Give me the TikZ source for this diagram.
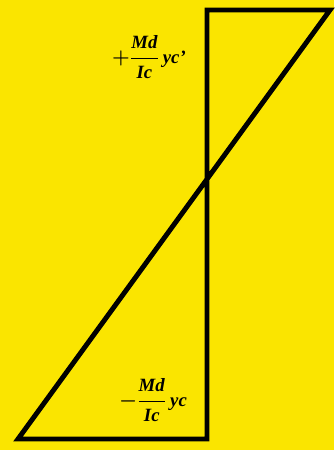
\documentclass[tikz,border=0pt]{standalone}
\usepackage{amsmath}
\usepackage{amssymb}
\usepackage{fontspec}
\setmainfont{Liberation Serif}
\usepackage{tikz}
\definecolor{fondjaune}{RGB}{250,229,0}
\newcommand{\gi}[1]{\textbf{\textit{#1}}}

\begin{document}
\begin{tikzpicture}[
    x=0.03cm, y=-0.03cm,
    trait/.style={line width=4.2pt, line join=miter},
    contrainte/.style={font=\fontsize{16}{19}\selectfont\boldmath, inner sep=0pt},
  ]
  \fill[fondjaune] (0,0) rectangle (334,450); % le fond
  \coordinate (haut) at (207,10);
  \coordinate (hautdroit) at (330,10);
  \coordinate (bas) at (207,439);
  \coordinate (basgauche) at (18,439);
  \draw[trait] (hautdroit) -- (haut) -- (bas) -- (basgauche) -- cycle;
  \node[contrainte] (sup) at (149,57) {$+\dfrac{\gi{Md}}{\gi{Ic}}\,\gi{yc'}$};
  \node[contrainte] (inf) at (153,400) {$-\dfrac{\gi{Md}}{\gi{Ic}}\,\gi{yc}$};
\end{tikzpicture}
\end{document}
